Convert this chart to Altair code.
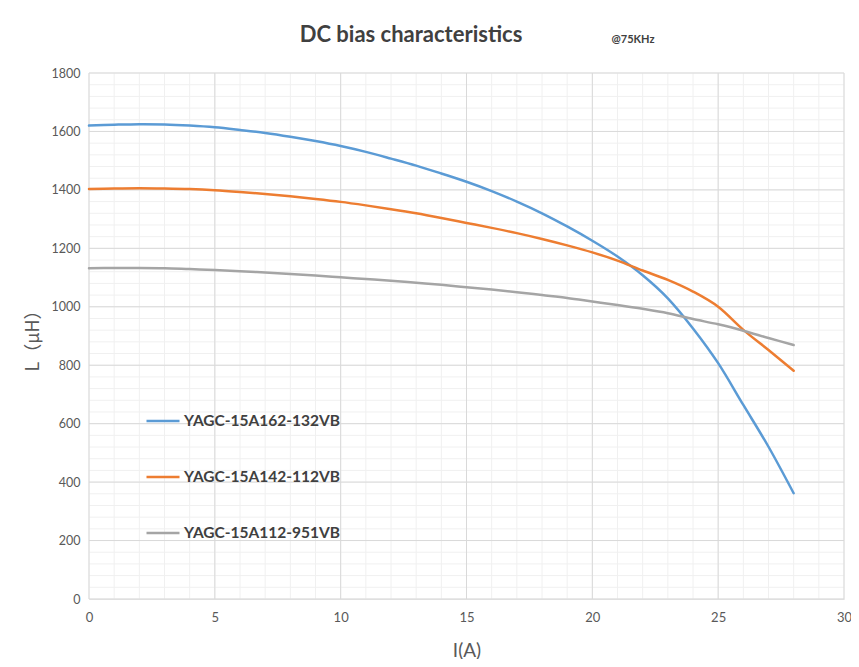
import altair as alt
import pandas as pd

# ---- data ----
current_a = list(range(0, 29))
l_15a162 = [1620, 1623, 1625, 1624, 1620, 1614, 1605, 1595, 1582, 1567,
            1550, 1530, 1507, 1483, 1456, 1428, 1396, 1360, 1320, 1275,
            1226, 1172, 1108, 1029, 926, 807, 664, 521, 362]
l_15a142 = [1403, 1405, 1406, 1405, 1403, 1399, 1393, 1386, 1378, 1369,
            1359, 1347, 1334, 1320, 1304, 1287, 1270, 1252, 1232, 1210,
            1186, 1158, 1124, 1092, 1052, 1000, 921, 852, 781]
l_15a112 = [1132, 1133, 1133, 1132, 1129, 1126, 1122, 1117, 1112, 1107,
            1101, 1095, 1089, 1082, 1075, 1067, 1059, 1050, 1040, 1030,
            1018, 1006, 993, 978, 958, 940, 918, 893, 869]
series_names = ["YAGC-15A162-132VB", "YAGC-15A142-112VB", "YAGC-15A112-951VB"]
series_colors = ["#5B9BD5", "#ED7D31", "#A5A5A5"]

x_minor = list(range(0, 31, 1))
x_major = list(range(0, 31, 5))
y_minor = list(range(0, 1801, 40))
y_major = list(range(0, 1801, 200))

title_text = "DC bias characteristics"
note_text = "@75KHz"

FONT = "Lato"

rows = []
for name, vals in zip(series_names, [l_15a162, l_15a142, l_15a112]):
    for xv, yv in zip(current_a, vals):
        rows.append({"I": xv, "L": yv, "series": name})
df = pd.DataFrame(rows)

xs = alt.Scale(domain=[0, 30], nice=False, zero=False)
ys = alt.Scale(domain=[0, 1800], nice=False, zero=False)

x_axis = alt.Axis(
    values=x_major, title="I(A)", grid=False, ticks=False, format="d",
    domainColor="#d9d9d9", labelFont=FONT, labelFontSize=13,
    labelColor="#595959", labelPadding=12, labelFlush=False, titleFont=FONT,
    titleFontSize=19, titleFontWeight="normal", titleColor="#595959",
    titlePadding=17)
y_axis = alt.Axis(
    values=y_major, title="L（μH）", grid=False, ticks=False, format="d",
    domain=False, labelFont=FONT, labelFontSize=12.5,
    labelColor="#595959", labelPadding=9, labelFlush=False,
    titleFont="Noto Sans CJK SC", titleFontSize=18, titleFontWeight="normal",
    titleColor="#595959", titlePadding=9)

minor_x = alt.Chart(pd.DataFrame({"I": x_minor})).mark_rule(
    color="#f0f0f0", strokeWidth=1
).encode(x=alt.X("I:Q", scale=xs, axis=x_axis))
minor_y = alt.Chart(pd.DataFrame({"L": y_minor})).mark_rule(
    color="#f0f0f0", strokeWidth=1
).encode(y=alt.Y("L:Q", scale=ys, axis=y_axis))
major_x = alt.Chart(pd.DataFrame({"I": x_major})).mark_rule(
    color="#d9d9d9", strokeWidth=1
).encode(x=alt.X("I:Q", scale=xs, axis=x_axis))
major_y = alt.Chart(pd.DataFrame({"L": y_major})).mark_rule(
    color="#d9d9d9", strokeWidth=1
).encode(y=alt.Y("L:Q", scale=ys, axis=y_axis))

lines = alt.Chart(df).mark_line(
    interpolate="cardinal", strokeWidth=2.5, strokeCap="round"
).encode(
    x=alt.X("I:Q", scale=xs, axis=x_axis),
    y=alt.Y("L:Q", scale=ys, axis=y_axis),
    color=alt.Color("series:N", scale=alt.Scale(domain=series_names, range=series_colors),
                    legend=alt.Legend(
                        orient="none", legendX=56, legendY=330, title=None,
                        symbolType="stroke", symbolSize=1089, symbolStrokeWidth=2.5,
                        labelFont=FONT, labelFontSize=15.5, labelFontWeight="bold",
                        labelColor="#404040", rowPadding=29, labelOffset=3)),
    order=alt.Order("I:Q"),
)

heading = alt.Chart(pd.DataFrame({"t": [title_text]})).mark_text(
    font=FONT, fontSize=22, fontWeight="bold", color="#404040", align="center",
    baseline="middle"
).encode(text="t:N", x=alt.value(322), y=alt.value(-38))

note = alt.Chart(pd.DataFrame({"t": [note_text]})).mark_text(
    font=FONT, fontSize=11, fontWeight="bold", color="#404040", align="center",
    baseline="middle"
).encode(text="t:N", x=alt.value(544), y=alt.value(-33))

chart = alt.layer(minor_x, minor_y, major_x, major_y, lines, heading, note).properties(
    width=755, height=526,
    autosize=alt.AutoSizeParams(type="none"),
    padding={"left": 81, "top": 65, "right": 7, "bottom": 60},
).configure_view(stroke=None)

chart.save("out.html", embed_options={"renderer": "svg", "actions": False})
